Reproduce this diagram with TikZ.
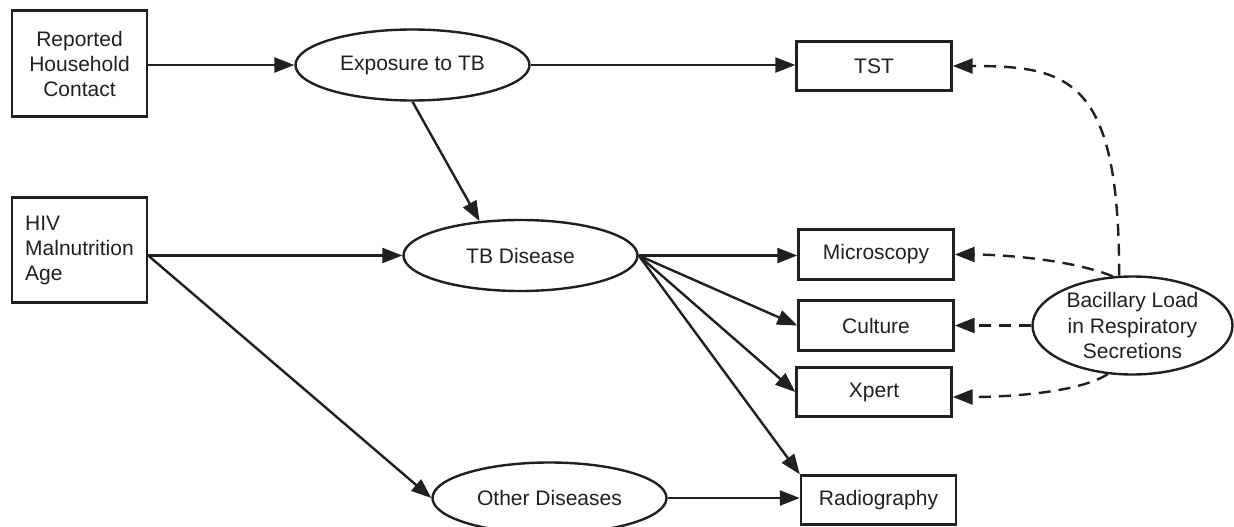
\documentclass[tikz,border=0pt]{standalone}
\usepackage{fontspec}
\setmainfont{Liberation Sans}
\usetikzlibrary{arrows.meta,shapes.geometric}
\definecolor{ink}{RGB}{35,31,32}
\begin{document}
\begin{tikzpicture}[x=1pt,y=-1pt,
  every node/.style={font=\fontsize{21}{25}\selectfont, text=ink},
  box/.style={draw=ink, line width=2.4pt, rectangle, inner sep=0pt, align=center},
  oval/.style={draw=ink, line width=2.4pt, ellipse, inner sep=0pt, align=center,
    minimum width=234pt, minimum height=71pt},
  arr/.style={draw=ink, line width=2.4pt, -{Triangle[length=20pt,width=15pt]}},
  darr/.style={arr, dash pattern=on 12pt off 8pt},
]
\useasboundingbox (0,0) rectangle (1234,527);
\clip (0,0) rectangle (1234,527);

% left boxes
\node[box, minimum width=135pt, minimum height=106pt] (rep) at (79.5,63.5)
  {Reported\\Household\\Contact};
\node[box, align=left, minimum width=135pt, minimum height=105pt] (hiv) at (79.5,250)
  {HIV\\Malnutrition\\Age};

% ellipses
\node[oval] (exp) at (412.5,65) {Exposure to TB};
\node[oval] (tbd) at (520.5,255.5) {TB Disease};
\node[oval] (oth) at (549.5,498) {Other Diseases};
\node[draw=ink, line width=2.4pt, ellipse, align=center, inner xsep=0pt, inner ysep=-10pt,
  minimum width=200pt, minimum height=98pt, font=\fontsize{21}{25.5}\selectfont]
  (bac) at (1132.5,325.5) {Bacillary Load\\in Respiratory\\Secretions};

% test boxes
\node[box, minimum width=155pt, minimum height=49pt] (tst) at (874,66) {TST};
\node[box, minimum width=155pt, minimum height=50pt] (mic) at (876,254.5) {Microscopy};
\node[box, minimum width=155pt, minimum height=50pt] (cul) at (876,325.5) {Culture};
\node[box, minimum width=155pt, minimum height=49pt] (xpe) at (874,392) {Xpert};
\node[box, minimum width=155pt, minimum height=49pt] (rad) at (878.5,500) {Radiography};

% solid arrows
\draw[arr] (exp.west -| rep.east) -- (exp.west);
\draw[arr] (exp.east) -- (exp.east -| tst.west);
\draw[arr] (exp.south) -- (tbd.140);
\draw[arr] (tbd.west -| hiv.east) -- (tbd.west);
\draw[arr] (tbd.west -| hiv.east) -- (oth.west);
\draw[arr] (tbd.east) -- (tbd.east -| mic.west);
\draw[arr] (tbd.east) -- (cul.west);
\draw[arr] (tbd.east) -- (xpe.west);
\draw[arr] (tbd.east) -- (rad.north west);
\draw[arr] (oth.east) -- (oth.east -| rad.west);

% dashed arrows
\draw[darr] (bac.105) .. controls +(0,-196) and +(118,0) .. (tst.east);
\draw[darr] (bac.112) .. controls +(-42,-17) and +(46,0) .. (mic.east);
\draw[darr] (bac.west) -- (cul.east);
\draw[darr] (bac.243) .. controls +(-28,18) and +(58,0) .. ([yshift=-5pt]xpe.east);
\end{tikzpicture}
\end{document}
